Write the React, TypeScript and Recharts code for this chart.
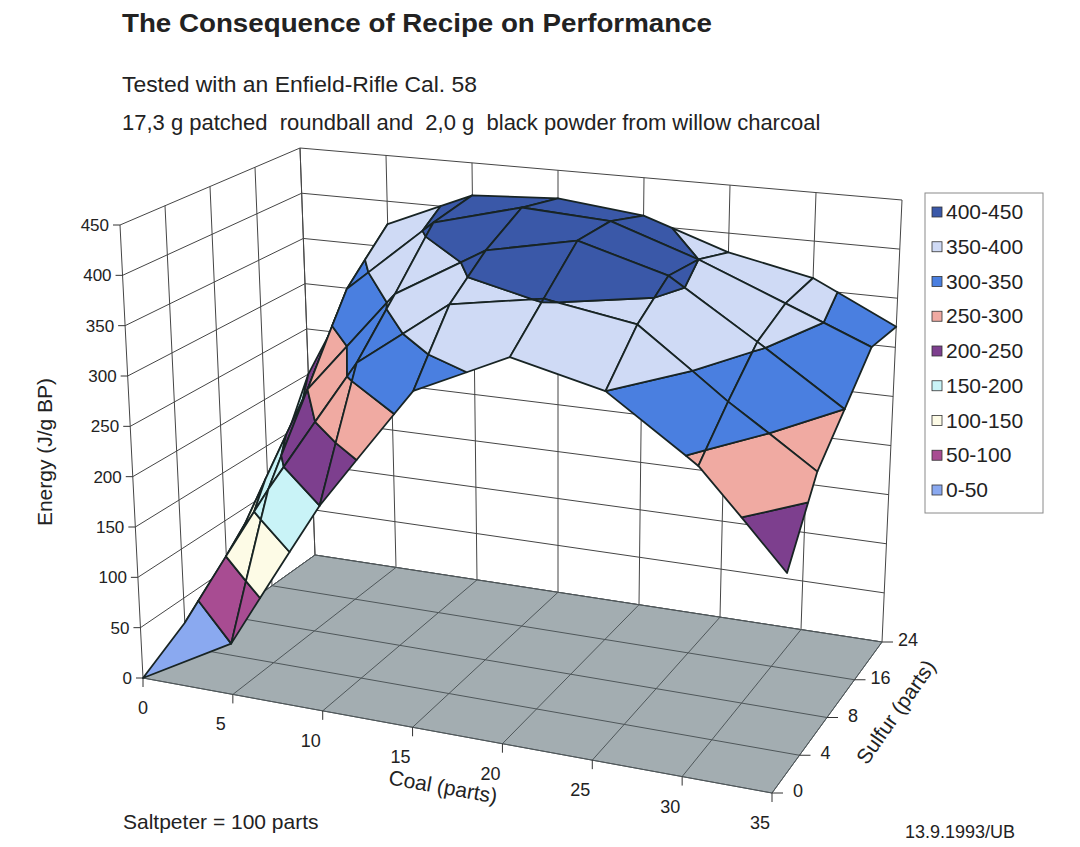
import React from 'react'
import { ScatterChart, Scatter, XAxis, YAxis, ReferenceArea } from 'recharts'

const WIDTH = 1080
const HEIGHT = 847
const FONT = '"Liberation Sans", Arial, sans-serif'

// categories (coal, front axis) and series (sulfur, depth axis)
const coalParts = [0, 5, 10, 15, 20, 25, 30, 35]
const sulfurParts = [0, 4, 8, 16, 24]
const energyTicks = [0, 50, 100, 150, 200, 250, 300, 350, 400, 450]

// energy in J/g BP, one value per coal step, one array per sulfur row
const energyS0 = [0, 50, 200, 325, 370, 350, 292, 205]
const energyS4 = [25, 175, 315, 385, 402, 388, 325, 270]
const energyS8 = [55, 250, 360, 415, 435, 410, 355, 300]
const energyS16 = [100, 330, 410, 435, 430, 400, 365, 331]
const energyS24 = [200, 375, 415, 420, 410, 380, 362, 321]
const sulfurRows = [energyS0, energyS4, energyS8, energyS16, energyS24]

const bandLabels = ['0-50', '50-100', '100-150', '150-200', '200-250', '250-300', '300-350', '350-400', '400-450']
const bandColors = ['#8aa9f0', '#a84c92', '#fdfbe6', '#c9f3f7', '#7d3f8e', '#f0aaa2', '#4a7fe0', '#cfdaf5', '#3a58a8']

type P = [number, number]
type Quad = { fl: P; fr: P; bl: P; br: P }

// box corners of the 3D frame, in plot coordinates
const floorBox: Quad = { fl: [143, 678], fr: [772, 793], bl: [315, 555], br: [882, 642] }
const roofBox: Quad = { fl: [120, 225], fr: [805, 310], bl: [300, 148], br: [902, 200] }

const coalMax = coalParts[coalParts.length - 1]
const eMax = energyTicks[energyTicks.length - 1]

function bil(c: Quad, u: number, v: number): P {
  const f: P = [c.fl[0] + (c.fr[0] - c.fl[0]) * u, c.fl[1] + (c.fr[1] - c.fl[1]) * u]
  const b: P = [c.bl[0] + (c.br[0] - c.bl[0]) * u, c.bl[1] + (c.br[1] - c.bl[1]) * u]
  return [f[0] + (b[0] - f[0]) * v, f[1] + (b[1] - f[1]) * v]
}

function project(u: number, v: number, w: number): P {
  const a = bil(floorBox, u, v)
  const b = bil(roofBox, u, v)
  return [a[0] + (b[0] - a[0]) * w, a[1] + (b[1] - a[1]) * w]
}

// distance from the viewer (bigger = further away)
const depth = (u: number, v: number, w: number) => -296 * u + 318 * v - 176 * w

type Item =
  | { type: 'poly'; pts: P[]; fill: string; stroke?: string; sw?: number }
  | { type: 'line'; pts: P[]; stroke: string; sw: number }
  | { type: 'text'; at: P; text: string; size: number; anchor: 'start' | 'middle' | 'end' }

const off = (p: P, dx: number, dy: number): P => [p[0] + dx, p[1] + dy]

// walls and floor
const wallItems: Item[] = []
const gridColor = '#454545'
energyTicks.forEach((e) => {
  const w = e / eMax
  wallItems.push({ type: 'line', pts: [project(0, 0, w), project(0, 1, w), project(1, 1, w)], stroke: gridColor, sw: 1 })
})
sulfurParts.forEach((_, si) => {
  const v = si / (sulfurParts.length - 1)
  wallItems.push({ type: 'line', pts: [project(0, v, 0), project(0, v, 1)], stroke: gridColor, sw: 1 })
})
coalParts.forEach((c) => {
  const u = c / coalMax
  wallItems.push({ type: 'line', pts: [project(u, 1, 0), project(u, 1, 1)], stroke: gridColor, sw: 1 })
})
wallItems.push({
  type: 'poly',
  pts: [project(0, 0, 0), project(1, 0, 0), project(1, 1, 0), project(0, 1, 0)],
  fill: '#a3adb1',
  stroke: '#555c5f',
  sw: 1,
})
coalParts.forEach((c) => {
  const u = c / coalMax
  wallItems.push({ type: 'line', pts: [project(u, 0, 0), project(u, 1, 0)], stroke: '#4f575a', sw: 1 })
})
sulfurParts.forEach((_, si) => {
  const v = si / (sulfurParts.length - 1)
  wallItems.push({ type: 'line', pts: [project(0, v, 0), project(1, v, 0)], stroke: '#4f575a', sw: 1 })
})

// ticks and tick labels
const axisItems: Item[] = []
energyTicks.forEach((e) => {
  const p = project(0, 0, e / eMax)
  axisItems.push({ type: 'line', pts: [p, off(p, -7, 0)], stroke: '#333', sw: 1 })
  axisItems.push({ type: 'text', at: off(p, -11, 6), text: String(e), size: 17, anchor: 'end' })
})
coalParts.forEach((c, ci) => {
  const p = project(c / coalMax, 0, 0)
  axisItems.push({ type: 'line', pts: [p, off(p, 0, 9)], stroke: '#333', sw: 1 })
  axisItems.push({ type: 'text', at: off(p, ci === 0 ? 0 : -12, 36), text: String(c), size: 18, anchor: 'middle' })
})
sulfurParts.forEach((s, si) => {
  const p = project(1, si / (sulfurParts.length - 1), 0)
  axisItems.push({ type: 'line', pts: [p, off(p, 11, 0)], stroke: '#333', sw: 1 })
  axisItems.push({ type: 'text', at: off(p, 26, 4), text: String(s), size: 18, anchor: 'middle' })
})

// surface: each grid cell cut into value bands
type V = { u: number; v: number; e: number }

function clip(poly: V[], level: number, above: boolean): V[] {
  const out: V[] = []
  for (let i = 0; i < poly.length; i++) {
    const a = poly[i]
    const b = poly[(i + 1) % poly.length]
    const ina = above ? a.e >= level : a.e <= level
    const inb = above ? b.e >= level : b.e <= level
    if (ina) out.push(a)
    if (ina !== inb) {
      const t = (level - a.e) / (b.e - a.e)
      out.push({ u: a.u + t * (b.u - a.u), v: a.v + t * (b.v - a.v), e: level })
    }
  }
  return out
}

const cells: { d: number; items: Item[] }[] = []
for (let si = 0; si < sulfurParts.length - 1; si++) {
  for (let ci = 0; ci < coalParts.length - 1; ci++) {
    const v0 = si / (sulfurParts.length - 1)
    const v1 = (si + 1) / (sulfurParts.length - 1)
    const u0 = coalParts[ci] / coalMax
    const u1 = coalParts[ci + 1] / coalMax
    const quad: V[] = [
      { u: u0, v: v0, e: sulfurRows[si][ci] },
      { u: u1, v: v0, e: sulfurRows[si][ci + 1] },
      { u: u1, v: v1, e: sulfurRows[si + 1][ci + 1] },
      { u: u0, v: v1, e: sulfurRows[si + 1][ci] },
    ]
    const d = quad.reduce((s, q) => s + depth(q.u, q.v, q.e / eMax), 0) / 4
    const items: Item[] = []
    bandColors.forEach((color, bi) => {
      const lo = energyTicks[bi]
      const hi = bi === bandColors.length - 1 ? Infinity : energyTicks[bi + 1]
      let piece = clip(quad, lo, true)
      if (piece.length >= 3 && hi !== Infinity) piece = clip(piece, hi, false)
      if (piece.length < 3) return
      items.push({
        type: 'poly',
        pts: piece.map((q) => project(q.u, q.v, q.e / eMax)),
        fill: color,
        stroke: '#182424',
        sw: 1.8,
      })
    })
    cells.push({ d, items })
  }
}
cells.sort((a, b) => b.d - a.d)
const surfaceItems: Item[] = cells.flatMap((c) => c.items)

const nodes = sulfurRows.flatMap((row, si) =>
  row.map((e, ci) => {
    const p = project(coalParts[ci] / coalMax, si / (sulfurParts.length - 1), e / eMax)
    return { x: p[0], y: p[1], coal: coalParts[ci], sulfur: sulfurParts[si], energy: e }
  })
)

function drawLayer(items: Item[]) {
  return (rect: any) => {
    const { x, y, width, height } = rect
    const sp = (p: P): string => `${x + (p[0] / WIDTH) * width},${y + (p[1] / HEIGHT) * height}`
    return (
      <g>
        {items.map((it, i) => {
          if (it.type === 'poly') {
            return (
              <polygon
                key={i}
                points={it.pts.map(sp).join(' ')}
                fill={it.fill}
                stroke={it.stroke ?? 'none'}
                strokeWidth={it.sw ?? 1}
                strokeLinejoin="round"
              />
            )
          }
          if (it.type === 'line') {
            return <polyline key={i} points={it.pts.map(sp).join(' ')} fill="none" stroke={it.stroke} strokeWidth={it.sw} />
          }
          const [tx, ty] = sp(it.at).split(',').map(Number)
          return (
            <text key={i} x={tx} y={ty} fontSize={it.size} textAnchor={it.anchor} fill="#222" fontFamily={FONT}>
              {it.text}
            </text>
          )
        })}
      </g>
    )
  }
}

const legendRows = bandLabels.map((label, i) => ({ label, color: bandColors[i] })).reverse()

export default function App() {
  return (
    <div style={{ position: 'absolute', left: 0, top: 0, width: WIDTH, height: HEIGHT, background: '#fff' }}>
      <ScatterChart width={WIDTH} height={HEIGHT} margin={{ top: 0, right: 0, bottom: 0, left: 0 }}>
        <XAxis type="number" dataKey="x" domain={[0, WIDTH]} allowDataOverflow hide />
        <YAxis type="number" dataKey="y" domain={[0, HEIGHT]} allowDataOverflow reversed hide />
        <ReferenceArea x1={0} x2={WIDTH} y1={0} y2={HEIGHT} ifOverflow="visible" shape={drawLayer(wallItems)} />
        <ReferenceArea x1={0} x2={WIDTH} y1={0} y2={HEIGHT} ifOverflow="visible" shape={drawLayer(axisItems)} />
        <ReferenceArea x1={0} x2={WIDTH} y1={0} y2={HEIGHT} ifOverflow="visible" shape={drawLayer(surfaceItems)} />
        <Scatter data={nodes} isAnimationActive={false} shape={() => <g />} />
      </ScatterChart>
      <svg
        width={WIDTH}
        height={HEIGHT}
        style={{ position: 'absolute', left: 0, top: 0, pointerEvents: 'none' }}
        fontFamily={FONT}
      >
        <text x={122} y={32} fontSize={26} fontWeight="bold" fill="#222" textLength={590} lengthAdjust="spacingAndGlyphs">
          The Consequence of Recipe on Performance
        </text>
        <text x={122} y={92} fontSize={22} fill="#222" textLength={355} lengthAdjust="spacingAndGlyphs">
          Tested with an Enfield-Rifle Cal. 58
        </text>
        <text x={122} y={130} fontSize={22} fill="#222" style={{ whiteSpace: 'pre' }}>
          {'17,3 g patched  roundball and  2,0 g  black powder from willow charcoal'}
        </text>
        <text x={52} y={452} fontSize={21} fill="#222" textAnchor="middle" transform="rotate(-90 52 452)">
          Energy (J/g BP)
        </text>
        <text x={443} y={794} fontSize={21} fill="#222" textAnchor="middle" transform="rotate(10 443 787)">
          Coal (parts)
        </text>
        <text x={896} y={719} fontSize={21} fill="#222" textAnchor="middle" transform="rotate(-55 896 712)">
          Sulfur (parts)
        </text>
        <text x={123} y={829} fontSize={21} fill="#222">
          Saltpeter = 100 parts
        </text>
        <text x={905} y={838} fontSize={18} fill="#222">
          13.9.1993/UB
        </text>
        <rect x={925} y={193} width={118} height={320} fill="#fff" stroke="#8a8a8a" />
        {legendRows.map((r, i) => {
          const cy = 212 + i * 34.75
          return (
            <g key={r.label}>
              <rect x={932} y={cy - 5} width={10} height={10} fill={r.color} stroke="#333" strokeWidth={0.8} />
              <text x={946} y={cy + 7} fontSize={21} fill="#222">
                {r.label}
              </text>
            </g>
          )
        })}
      </svg>
    </div>
  )
}
